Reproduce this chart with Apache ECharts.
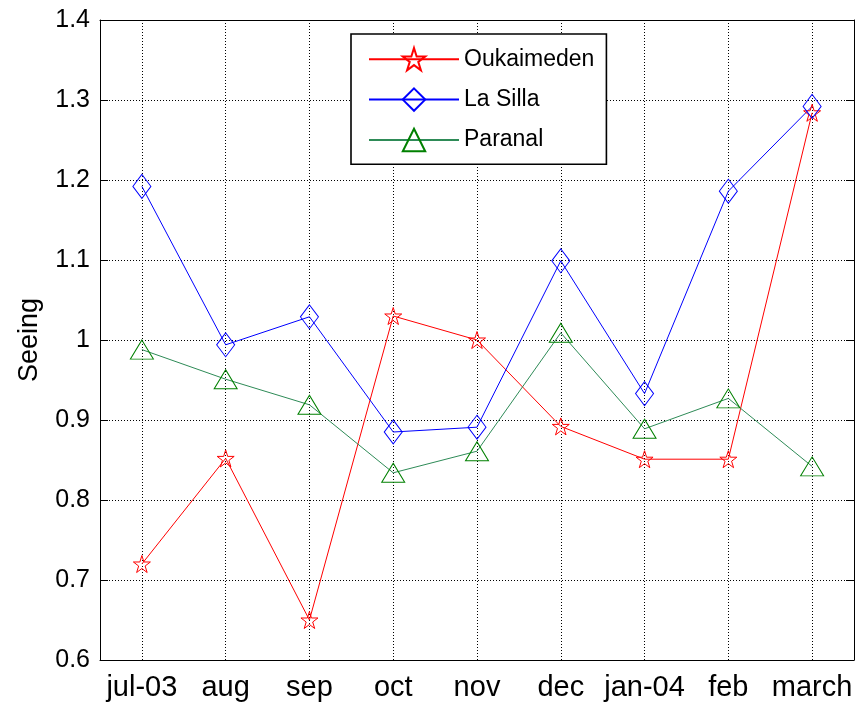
<!DOCTYPE html>
<html>
<head>
<meta charset="utf-8">
<title>Seeing</title>
<script src="https://cdn.jsdelivr.net/npm/echarts@6/dist/echarts.min.js"></script>
<style>
  html, body { margin: 0; padding: 0; background: #fff; }
  #chart { width: 865px; height: 708px; }
</style>
</head>
<body>
<div id="chart"></div>
<script>
// Monthly seeing at three observatories
const months = ['jul-03', 'aug', 'sep', 'oct', 'nov', 'dec', 'jan-04', 'feb', 'march'];
const oukaimeden = [0.72, 0.852, 0.65, 1.03, 1.0, 0.892, 0.851, 0.851, 1.284];
const laSilla = [1.192, 0.994, 1.029, 0.885, 0.891, 1.099, 0.933, 1.186, 1.292];
const paranal = [0.988, 0.951, 0.919, 0.834, 0.861, 1.009, 0.889, 0.927, 0.842];

const yMin = 0.6, yMax = 1.4, yStep = 0.1;

const FONT = '"Liberation Sans", Arial, Helvetica, sans-serif';
const starPath = 'path://M50 0L61.23 34.55L97.55 34.55L68.17 55.9L79.39 90.45L50 69.1L20.61 90.45L31.83 55.9L2.45 34.55L38.77 34.55Z';

const chart = echarts.init(document.getElementById('chart'), null, { renderer: 'canvas' });

const gridDots = { color: '#000', width: 1, type: [1, 2] };

function makeSeries(name, values, color, markerColor, symbol, size) {
  return {
    name: name,
    type: 'line',
    data: values,
    symbol: symbol,
    symbolSize: size,
    showAllSymbol: true,
    lineStyle: { color: color, width: 1 },
    itemStyle: { color: 'rgba(0,0,0,0)', borderColor: markerColor, borderWidth: 1 },
    emphasis: { disabled: true },
    z: 3
  };
}

chart.setOption({
  animation: false,
  backgroundColor: '#fff',
  grid: { left: 100, right: 11, top: 20, bottom: 48, containLabel: false },
  legend: {
    orient: 'vertical',
    left: 351,
    top: 34,
    backgroundColor: '#fff',
    borderColor: '#000',
    borderWidth: 1.6,
    borderRadius: 0,
    padding: [13, 12, 12, 17],
    itemWidth: 90,
    itemHeight: 28,
    itemGap: 16,
    textStyle: { fontFamily: FONT, fontSize: 23, color: '#000' },
    data: ['Oukaimeden', 'La Silla', 'Paranal'],
    z: 10
  },
  xAxis: [
    {
      type: 'category',
      data: months,
      boundaryGap: true,
      axisLine: { lineStyle: { color: '#000', width: 1 } },
      axisTick: { inside: true, length: 8, alignWithLabel: true, lineStyle: { color: '#000' } },
      axisLabel: { fontFamily: FONT, fontSize: 29, color: '#000', margin: 13, interval: 0 },
      splitLine: { show: true, alignWithLabel: true, lineStyle: gridDots }
    },
    {
      type: 'category',
      data: months,
      position: 'top',
      boundaryGap: true,
      axisLine: { lineStyle: { color: '#000', width: 1 } },
      axisTick: { inside: true, length: 8, alignWithLabel: true, lineStyle: { color: '#000' } },
      axisLabel: { show: false },
      splitLine: { show: false }
    }
  ],
  yAxis: [
    {
      type: 'value',
      min: yMin,
      max: yMax,
      interval: yStep,
      name: 'Seeing',
      nameLocation: 'middle',
      nameGap: 57,
      nameTextStyle: { fontFamily: FONT, fontSize: 27, color: '#000' },
      axisLine: { show: true, lineStyle: { color: '#000', width: 1 } },
      axisTick: { show: true, inside: true, length: 8, lineStyle: { color: '#000' } },
      axisLabel: { fontFamily: FONT, fontSize: 25, color: '#000', margin: 10 },
      splitLine: { show: true, lineStyle: gridDots }
    },
    {
      type: 'value',
      min: yMin,
      max: yMax,
      interval: yStep,
      position: 'right',
      axisLine: { show: true, lineStyle: { color: '#000', width: 1 } },
      axisTick: { show: true, inside: true, length: 8, lineStyle: { color: '#000' } },
      axisLabel: { show: false },
      splitLine: { show: false }
    }
  ],
  series: [
    makeSeries('Oukaimeden', oukaimeden, '#ff0000', '#ff0000', starPath, [17, 17]),
    makeSeries('La Silla', laSilla, '#0000ff', '#0000ff', 'diamond', [18, 24]),
    makeSeries('Paranal', paranal, '#2e8b57', '#008000', 'triangle', [23, 19])
  ]
});
</script>
</body>
</html>
